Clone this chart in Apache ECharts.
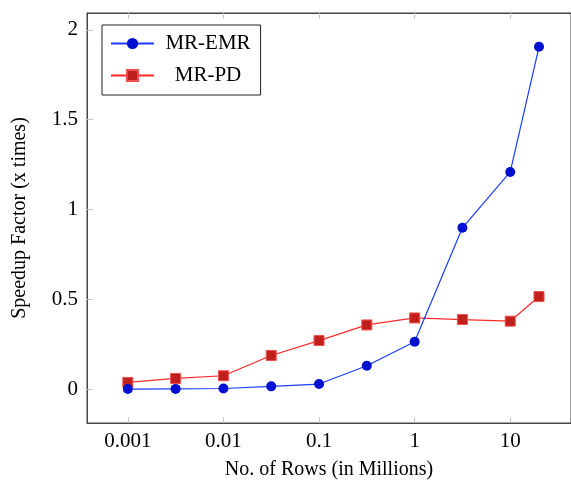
<!DOCTYPE html>
<html>
<head>
<meta charset="utf-8">
<script src="https://cdn.jsdelivr.net/npm/echarts@6/dist/echarts.min.js"></script>
<style>
  html, body { margin:0; padding:0; background:#fff; }
  #chart { width:571px; height:485px; }
</style>
</head>
<body>
<div id="chart"></div>
<script>
// ===== data =====
const rows   = [0.001, 0.00316, 0.01, 0.0316, 0.1, 0.316, 1, 3.16, 10, 20]; // millions
const mrEmr  = [0.000, 0.001, 0.003, 0.015, 0.028, 0.130, 0.263, 0.898, 1.209, 1.906];
const mrPd   = [0.037, 0.059, 0.074, 0.187, 0.270, 0.357, 0.396, 0.387, 0.378, 0.515];
const yTicks = [0, 0.5, 1, 1.5, 2];
const xTicks = [0.001, 0.01, 0.1, 1, 10];

const serif = '"Liberation Serif", "DejaVu Serif", serif';
const pair = (xs, ys) => xs.map((x, i) => [x, ys[i]]);

const chart = echarts.init(document.getElementById('chart'), null, { renderer:'canvas' });

const tickStyle = { show:true, inside:true, length:6, lineStyle:{ color:'#c8c8c8', width:1 } };

chart.setOption({
  animation: false,
  grid: { left:87, top:13, width:486, height:411, show:true, borderColor:'#444', borderWidth:1 },
  legend: {
    orient: 'vertical',
    left: 102, top: 25,
    padding: [8, 10, 9, 8],
    itemGap: 11,
    itemWidth: 43, itemHeight: 14,
    backgroundColor: '#fff',
    borderColor: '#222', borderWidth: 1,
    formatter: n => '{t|' + n + '}',
    textStyle: {
      color:'#000', fontFamily: serif, fontSize: 21,
      rich: { t: { width: 98, align:'center', fontFamily: serif, fontSize: 21 } }
    },
    data: ['MR-EMR', 'MR-PD']
  },
  xAxis: [{
    type: 'log', logBase: 10,
    min: 0.000374, max: 43.2,
    name: 'No. of Rows (in Millions)',
    nameLocation: 'middle', nameGap: 37,
    nameTextStyle: { color:'#000', fontFamily: serif, fontSize: 20 },
    axisLine: { show:true, onZero:false, lineStyle:{ color:'#444' } },
    axisTick: Object.assign({ customValues: xTicks }, tickStyle),
    axisLabel: {
      customValues: xTicks, margin: 8, color:'#000', fontFamily: serif, fontSize: 21,
      formatter: v => String(+(+v).toPrecision(3))
    },
    splitLine: { show:false }, minorTick:{ show:false }
  }, {
    type: 'log', logBase: 10, position: 'top',
    min: 0.000374, max: 43.2,
    axisLine: { show:true, onZero:false, lineStyle:{ color:'#444' } },
    axisTick: Object.assign({ customValues: xTicks }, tickStyle),
    axisLabel: { show:false }, splitLine: { show:false }
  }],
  yAxis: {
    type: 'value',
    min: -0.189, max: 2.094,
    name: 'Speedup Factor (x times)',
    nameLocation: 'middle', nameGap: 57,
    nameTextStyle: { color:'#000', fontFamily: serif, fontSize: 20 },
    axisLine: { show:true, onZero:false, lineStyle:{ color:'#444' } },
    axisTick: Object.assign({ customValues: yTicks }, tickStyle),
    axisLabel: {
      customValues: yTicks, margin: 9, color:'#000', fontFamily: serif, fontSize: 21,
      formatter: v => String(+(+v).toPrecision(3))
    },
    splitLine: { show:false }
  },
  series: [{
    name: 'MR-EMR', type: 'line',
    data: pair(rows, mrEmr),
    symbol: 'circle', symbolSize: 10,
    lineStyle: { color:'#1a3cff', width:1.2 },
    itemStyle: { color:'#0010d0', borderColor:'#0010d0', borderWidth:0 },
    z: 3
  }, {
    name: 'MR-PD', type: 'line',
    data: pair(rows, mrPd),
    symbol: 'rect', symbolSize: 10,
    lineStyle: { color:'#ff2a2a', width:1.2 },
    itemStyle: { color:'#c0201c', borderColor:'#f05050', borderWidth:1 },
    z: 2
  }]
});
</script>
</body>
</html>
